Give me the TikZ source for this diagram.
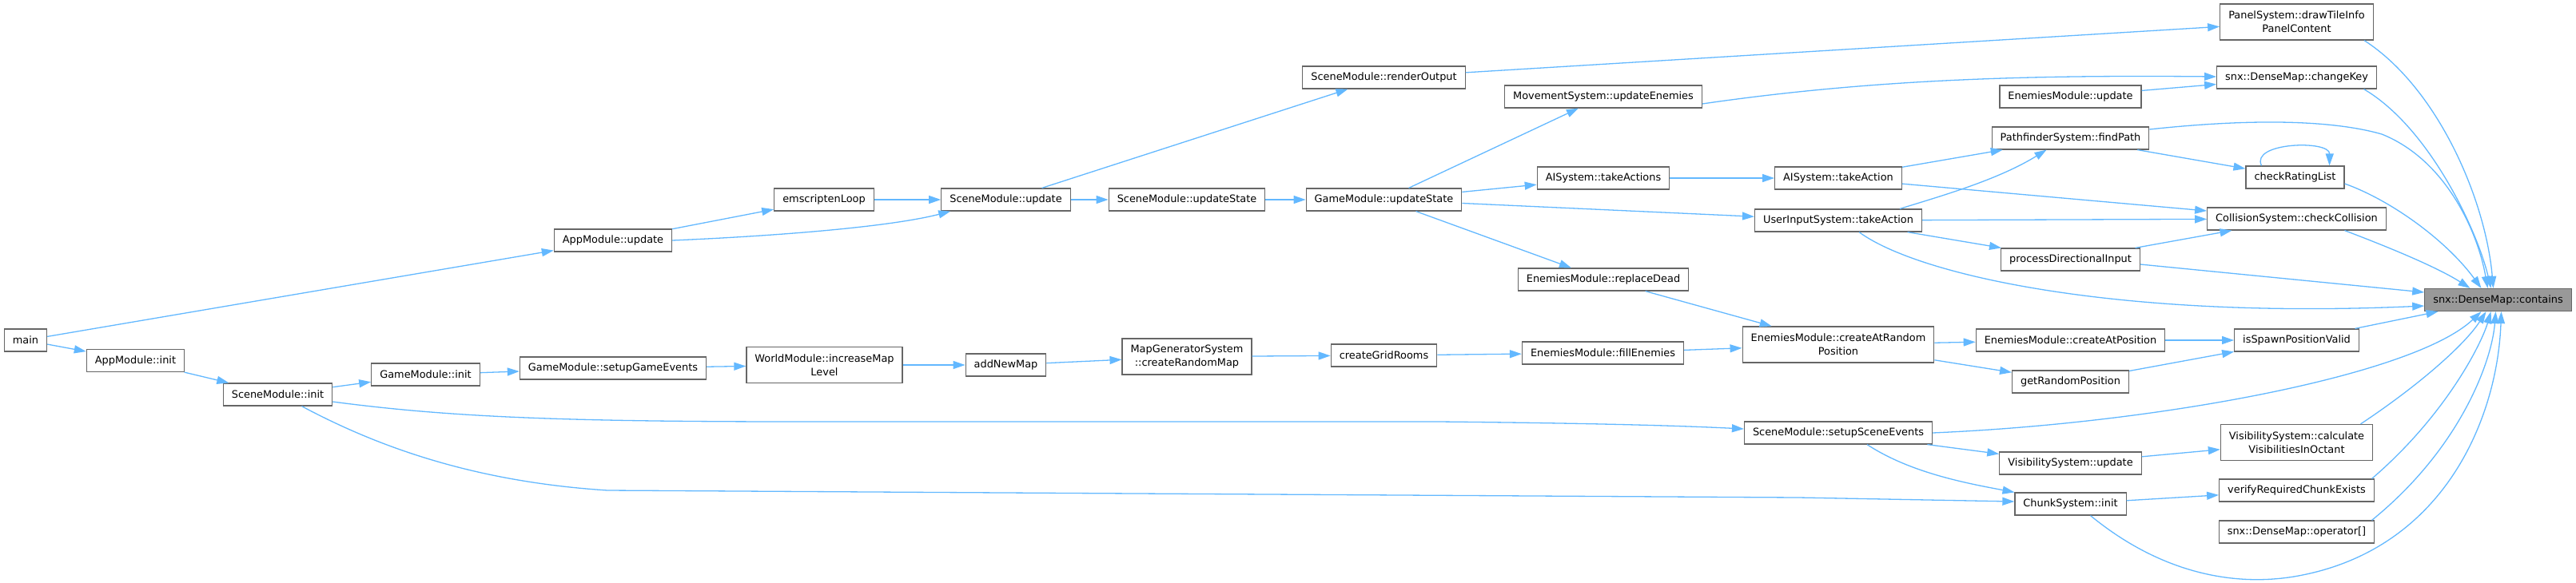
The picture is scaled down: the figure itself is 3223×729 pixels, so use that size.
\documentclass[tikz,border=0pt]{standalone}
\usepackage{fontspec}
\setmainfont{DejaVu Sans}
\usetikzlibrary{arrows.meta}
\definecolor{edgeblue}{HTML}{63B8FF}
\definecolor{boxborder}{HTML}{666666}
\definecolor{hlfill}{HTML}{999999}
\begin{document}
\begin{tikzpicture}[x=1pt,y=-1pt,
  fn/.style={draw=boxborder, line width=1.2pt, fill=white, minimum height=28pt,
    inner xsep=10.5pt, inner ysep=2pt, font=\fontsize{12.9}{17}\selectfont, align=center},
  fntwo/.style={fn, minimum height=45pt},
  hl/.style={fn, fill=hlfill},
  call/.style={draw=edgeblue, line width=1.3pt, -{Triangle[length=15pt,width=10pt]}},
]
\useasboundingbox (0,0) rectangle (3223,729);

% ---- nodes ----
\node[fn] (main) at (32,426) {main};
\node[fn] (appinit) at (169.5,451.5) {AppModule::init};
\node[fn] (sceneinit) at (347.5,494) {SceneModule::init};
\node[fn] (gameinit) at (532.5,469) {GameModule::init};
\node[fn] (setupge) at (767,461) {GameModule::setupGameEvents};
\node[fntwo] (worldinc) at (1031.5,457) {WorldModule::increaseMap\\Level};
\node[fn] (addnewmap) at (1258.5,457) {addNewMap};
\node[fntwo] (mapgen) at (1485,446.5) {MapGeneratorSystem\\::createRandomMap};
\node[fn] (gridrooms) at (1731.5,445) {createGridRooms};
\node[fn] (fillen) at (2005.5,442) {EnemiesModule::fillEnemies};
\node[fntwo] (carp) at (2300,431.5) {EnemiesModule::createAtRandom\\Position};
\node[fn] (appupd) at (767,301) {AppModule::update};
\node[fn] (emloop) at (1031,250) {emscriptenLoop};
\node[fn] (scupd) at (1258.5,250) {SceneModule::update};
\node[fn] (scstate) at (1485,250) {SceneModule::updateState};
\node[fn] (gmstate) at (1731.5,250) {GameModule::updateState};
\node[fn] (render) at (1731.5,97) {SceneModule::renderOutput};
\node[fn] (movement) at (2006,121) {MovementSystem::updateEnemies};
\node[fn] (aiacts) at (2006,223) {AISystem::takeActions};
\node[fn] (replace) at (2006,350) {EnemiesModule::replaceDead};
\node[fn] (aiact) at (2300,223) {AISystem::takeAction};
\node[fn] (userin) at (2300,276) {UserInputSystem::takeAction};
\node[fn] (setupse) at (2300,542) {SceneModule::setupSceneEvents};
\node[fn] (enupd) at (2590.5,121) {EnemiesModule::update};
\node[fn] (findpath) at (2590.5,173) {PathfinderSystem::findPath};
\node[fn] (procdir) at (2590.5,325) {processDirectionalInput};
\node[fn] (catpos) at (2590.5,426) {EnemiesModule::createAtPosition};
\node[fn] (getrand) at (2590.5,478) {getRandomPosition};
\node[fn] (visupd) at (2590.5,580) {VisibilitySystem::update};
\node[fn] (chunkinit) at (2590.5,631) {ChunkSystem::init};
\node[fntwo] (panel) at (2873.5,27.5) {PanelSystem::drawTileInfo\\PanelContent};
\node[fn] (changekey) at (2873.5,97) {snx::DenseMap::changeKey};
\node[fn] (crl) at (2871.5,222) {checkRatingList};
\node[fn] (collision) at (2873.5,274) {CollisionSystem::checkCollision};
\node[fn] (isspawn) at (2873.5,426) {isSpawnPositionValid};
\node[fntwo] (viscalc) at (2873.5,554) {VisibilitySystem::calculate\\VisibilitiesInOctant};
\node[fn] (verify) at (2873.5,614) {verifyRequiredChunkExists};
\node[fn] (opidx) at (2873.5,666) {snx::DenseMap::operator[]};
\node[hl] (contains) at (3125.5,375.5) {snx::DenseMap::contains};

% ---- straight connectors ----
\draw[call] (main) -- (appupd);
\draw[call] (main) -- (appinit);
\draw[call] (appinit) -- (sceneinit);
\draw[call] (sceneinit) -- (gameinit);
\draw[call] (gameinit) -- (setupge);
\draw[call] (setupge) -- (worldinc);
\draw[call] (worldinc) -- (addnewmap);
\draw[call] (addnewmap) -- (mapgen);
\draw[call] (mapgen) -- (gridrooms);
\draw[call] (gridrooms) -- (fillen);
\draw[call] (fillen) -- (carp);
\draw[call] (appupd) -- (emloop);
\draw[call] (emloop) -- (scupd);
\draw[call] (scupd) -- (scstate);
\draw[call] (scupd) -- (render);
\draw[call] (scstate) -- (gmstate);
\draw[call] (gmstate) -- (movement);
\draw[call] (gmstate) -- (aiacts);
\draw[call] (gmstate) -- (userin);
\draw[call] (gmstate) -- (replace);
\draw[call] (replace) -- (carp);
\draw[call] (render) -- (panel);
\draw[call] (enupd) -- (changekey);
\draw[call] (aiacts) -- (aiact);
\draw[call] (aiact) -- (findpath);
\draw[call] (aiact) -- (collision);
\draw[call] (userin) -- (collision);
\draw[call] (userin) -- (procdir);
\draw[call] (findpath) -- (crl);
\draw[call] (procdir) -- (collision);
\draw[call] (carp) -- (catpos);
\draw[call] (carp) -- (getrand);
\draw[call] (catpos) -- (isspawn);
\draw[call] (getrand) -- (isspawn);
\draw[call] (setupse) -- (visupd);
\draw[call] (visupd) -- (viscalc);
\draw[call] (chunkinit) -- (verify);
\draw[call] ([yshift=-6pt]procdir.east) -- ([yshift=9.5pt]contains.west);
\draw[call] ([xshift=73pt]isspawn.north) -- ([xshift=-75pt]contains.south);

% ---- curved connectors ----
\draw[call] (appupd.east) .. controls (960,296) and (1110,285) .. ([xshift=12pt]scupd.south west);
\draw[call] ([yshift=-9pt]sceneinit.east) .. controls (560,522) and (700,528) .. (1000,528)
   -- (1800,528) .. controls (2000,530) and (2100,533) .. ([yshift=5pt]setupse.west);
\draw[call] ([xshift=30pt]sceneinit.south) .. controls (470,558) and (590,603) .. (760,614)
   -- (2250,623) -- ([yshift=3pt]chunkinit.west);
\draw[call] ([xshift=77pt]userin.north) .. controls (2430,245) and (2500,225) .. ([xshift=-30pt]findpath.south);
\draw[call] ([xshift=26pt]userin.south) .. controls (2400,345) and (2650,400) .. ([yshift=-7.5pt]contains.west);
\draw[call] ([xshift=36pt]setupse.south) .. controls (2390,592) and (2460,605) .. ([xshift=-70pt]chunkinit.north);
\draw[call] (setupse.east) .. controls (2700,530) and (3020,470) .. ([xshift=-21pt]contains.south);
\draw[call] ([yshift=-9pt]movement.east) .. controls (2350,98) and (2550,94) .. ([yshift=1pt]changekey.west);
\draw[call] ([yshift=11pt]findpath.east) .. controls (2800,150) and (2910,148) .. (2980,168)
   .. controls (3060,200) and (3100,290) .. ([xshift=-13pt]contains.north);
\draw[call] ([xshift=84.5pt]panel.south) .. controls (3050,110) and (3110,250) .. ([xshift=-6pt]contains.north);
\draw[call] ([xshift=84pt]changekey.south) .. controls (3040,160) and (3100,290) .. ([xshift=-9pt]contains.north);
\draw[call] ([yshift=-8pt]crl.east) .. controls (2990,250) and (3060,300) .. ([xshift=-21pt]contains.north);
\draw[call] ([xshift=60pt]collision.south) .. controls (2990,310) and (3050,335) .. ([xshift=-35pt]contains.north);
\draw[call] ([xshift=80pt]viscalc.north) .. controls (3030,480) and (3085,430) .. ([xshift=-15pt]contains.south);
\draw[call] ([xshift=94pt]verify.north) .. controls (3060,520) and (3105,430) .. ([xshift=-9pt]contains.south);
\draw[call] ([xshift=94pt]opidx.north) .. controls (3080,560) and (3118,450) .. ([xshift=-3pt]contains.south);
\draw[call] ([xshift=25pt]chunkinit.south) .. controls (2700,715) and (2790,735) .. (2870,722)
   .. controls (3060,690) and (3125,520) .. ([xshift=4pt]contains.south);
\draw[call] ([xshift=-42pt]crl.north) .. controls (2815,178) and (2915,175) .. ([xshift=43pt]crl.north);
\end{tikzpicture}
\end{document}
